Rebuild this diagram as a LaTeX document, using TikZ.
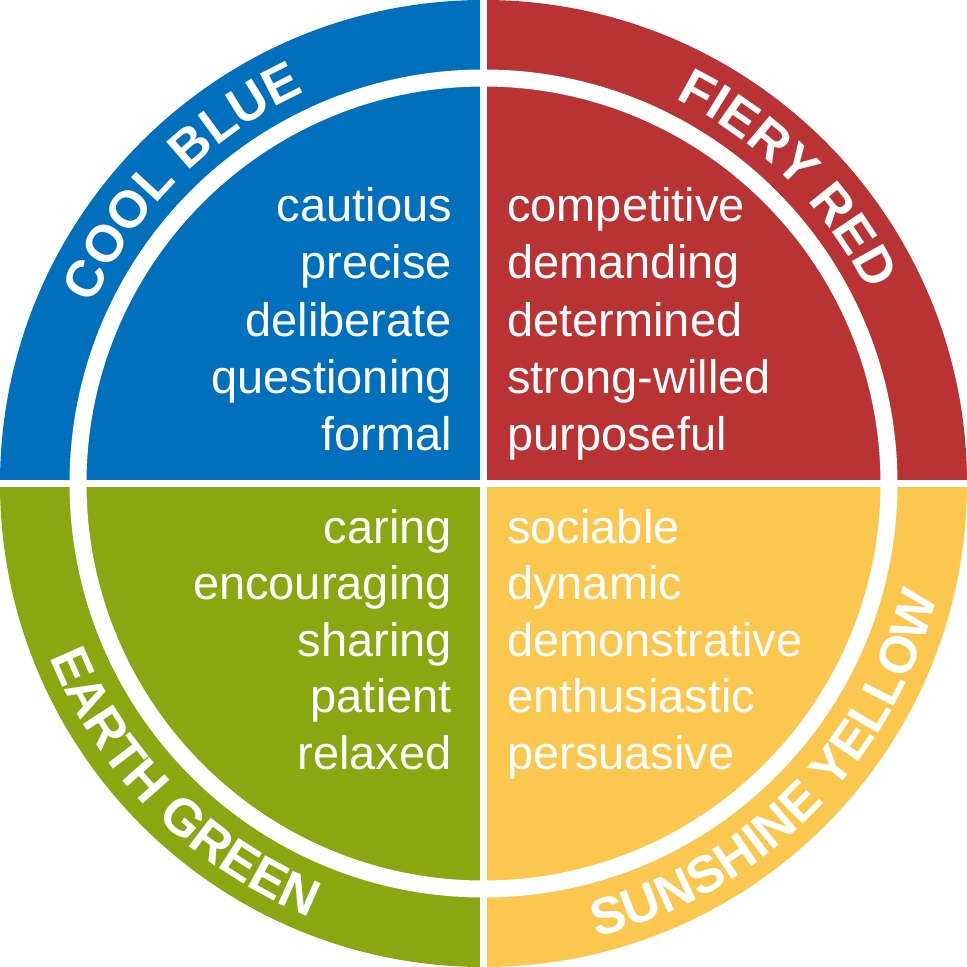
\documentclass[tikz,border=0pt]{standalone}
\usepackage{fontspec}
\setmainfont{Liberation Sans}
\usetikzlibrary{decorations.text}
\definecolor{cblue}{RGB}{0,112,189}
\definecolor{cred}{RGB}{185,50,52}
\definecolor{cgreen}{RGB}{138,166,16}
\definecolor{cyellow}{RGB}{252,199,78}
\tikzset{
  word/.style={text=white, inner sep=0pt, font=\fontsize{47}{57}\selectfont},
  wordL/.style={word, anchor=base east},
  wordR/.style={word, anchor=base west},
  gap/.style={white, line width=7pt},
  ringtext/.style={decorate, decoration={text along path, text align=center,
    text={|\fontsize{52}{60}\selectfont\bfseries\color{white}|#1}}}
}
\begin{document}
\begin{tikzpicture}[x=1pt,y=1pt]
\useasboundingbox (-483.5,-483.5) rectangle (483.5,483.5);
% quadrants
\fill[cblue] (0,0) -- (180:483.5) arc[start angle=180,end angle=90,radius=483.5] -- cycle;
\fill[cred] (0,0) -- (90:483.5) arc[start angle=90,end angle=0,radius=483.5] -- cycle;
\fill[cyellow] (0,0) -- (0:483.5) arc[start angle=0,end angle=-90,radius=483.5] -- cycle;
\fill[cgreen] (0,0) -- (270:483.5) arc[start angle=270,end angle=180,radius=483.5] -- cycle;
% white separators
\draw[gap] (-490,0) -- (490,0);
\draw[gap] (0,-490) -- (0,490);
\draw[white, line width=17pt] (0,0) circle[radius=405.5];
% ring labels
\path[ringtext={COOL BLUE}] (165:429.9) arc[start angle=165,end angle=105,radius=429.9];
\path[ringtext={FIERY RED}] (75:429.9) arc[start angle=75,end angle=15,radius=429.9];
\path[ringtext={EARTH GREEN}] (190:467.1) arc[start angle=190,end angle=260,radius=467.1];
\path[ringtext={SUNSHINE YELLOW}] (-85:467.1) arc[start angle=-85,end angle=-5,radius=467.1];
% blue words
\node[wordL] (b1) at (-31.5,261.5) {cautious};
\node[wordL] (b2) at (-31.5,204.5) {precise};
\node[wordL] (b3) at (-31.5,147.5) {deliberate};
\node[wordL] (b4) at (-31.5,90.5) {questioning};
\node[wordL] (b5) at (-31.5,33.5) {formal};
% red words
\node[wordR] (r1) at (23.5,261.5) {competitive};
\node[wordR] (r2) at (23.5,204.5) {demanding};
\node[wordR] (r3) at (23.5,147.5) {determined};
\node[wordR] (r4) at (23.5,90.5) {strong-willed};
\node[wordR] (r5) at (23.5,33.5) {purposeful};
% green words
\node[wordL] (g1) at (-31.5,-59.5) {caring};
\node[wordL] (g2) at (-31.5,-116) {encouraging};
\node[wordL] (g3) at (-31.5,-172.5) {sharing};
\node[wordL] (g4) at (-31.5,-229) {patient};
\node[wordL] (g5) at (-31.5,-285.5) {relaxed};
% yellow words
\node[wordR] (y1) at (23.5,-59.5) {sociable};
\node[wordR] (y2) at (23.5,-116) {dynamic};
\node[wordR] (y3) at (23.5,-172.5) {demonstrative};
\node[wordR] (y4) at (23.5,-229) {enthusiastic};
\node[wordR] (y5) at (23.5,-285.5) {persuasive};
\end{tikzpicture}
\end{document}
